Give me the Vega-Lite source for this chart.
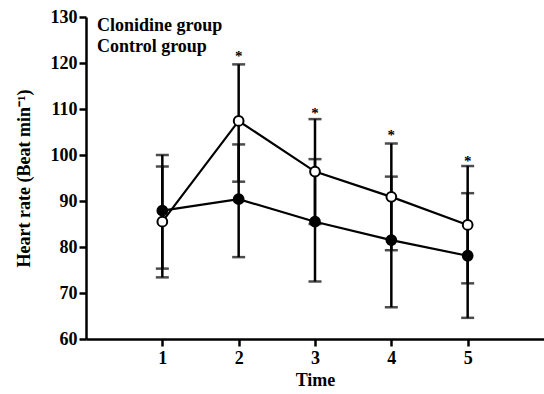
{
  "$schema": "https://vega.github.io/schema/vega-lite/v6.json",
  "width": 458,
  "height": 322,
  "autosize": {"type": "none"},
  "padding": {"left": 86, "top": 17, "right": 0, "bottom": 55},
  "background": "white",
  "config": {
    "font": "Liberation Serif",
    "view": {"stroke": null},
    "axis": {
      "domainColor": "black", "domainWidth": 2.5, "tickColor": "black", "tickWidth": 2.5,
      "tickSize": 7, "labelColor": "black", "labelFont": "Liberation Serif", "labelFontSize": 18, "labelFontWeight": "bold",
      "titleColor": "black", "titleFont": "Liberation Serif", "titleFontSize": 18, "titleFontWeight": "bold",
      "grid": false
    }
  },
  "datasets": {
    "hr": [
      {"time": 1, "group": "Clonidine group", "mean": 87.9, "lo": 75.3, "hi": 100.0},
      {"time": 2, "group": "Clonidine group", "mean": 90.4, "lo": 77.8, "hi": 102.3},
      {"time": 3, "group": "Clonidine group", "mean": 85.5, "lo": 72.5, "hi": 99.1},
      {"time": 4, "group": "Clonidine group", "mean": 81.5, "lo": 66.9, "hi": 95.3},
      {"time": 5, "group": "Clonidine group", "mean": 78.1, "lo": 64.6, "hi": 91.7},
      {"time": 1, "group": "Control group", "mean": 85.5, "lo": 73.4, "hi": 97.5},
      {"time": 2, "group": "Control group", "mean": 107.4, "lo": 94.2, "hi": 119.7},
      {"time": 3, "group": "Control group", "mean": 96.4, "lo": 85.0, "hi": 107.8},
      {"time": 4, "group": "Control group", "mean": 90.9, "lo": 79.3, "hi": 102.5},
      {"time": 5, "group": "Control group", "mean": 84.8, "lo": 72.1, "hi": 97.6}
    ],
    "stars": [
      {"time": 2, "y": 122.1, "label": "*"},
      {"time": 3, "y": 109.8, "label": "*"},
      {"time": 4, "y": 104.9, "label": "*"},
      {"time": 5, "y": 99.3, "label": "*"}
    ]
  },
  "layer": [
    {
      "data": {"name": "hr"},
      "mark": {"type": "errorbar", "ticks": {"size": 13, "thickness": 2.5, "color": "black"}, "rule": {"strokeWidth": 2.5, "color": "black"}},
      "encoding": {
        "x": {"field": "time", "type": "quantitative", "scale": {"domain": [0, 6], "nice": false},
          "axis": {"values": [1, 2, 3, 4, 5], "format": "d", "title": "Time", "labelPadding": 3, "titlePadding": 4}},
        "y": {"field": "lo", "type": "quantitative", "scale": {"domain": [60, 130], "nice": false, "zero": false},
          "axis": {"values": [60, 70, 80, 90, 100, 110, 120, 130], "title": "Heart rate (Beat min⁻¹)", "labelPadding": 2, "titlePadding": 17}},
        "y2": {"field": "hi"},
        "detail": {"field": "group"}
      }
    },
    {
      "data": {"name": "hr"},
      "mark": {"type": "line", "color": "black", "strokeWidth": 2.2},
      "encoding": {
        "x": {"field": "time", "type": "quantitative"},
        "y": {"field": "mean", "type": "quantitative"},
        "detail": {"field": "group"}
      }
    },
    {
      "data": {"name": "hr"},
      "mark": {"type": "point", "filled": true, "stroke": "black", "strokeWidth": 2, "size": 95, "opacity": 1, "shape": "circle"},
      "encoding": {
        "x": {"field": "time", "type": "quantitative"},
        "y": {"field": "mean", "type": "quantitative"},
        "fill": {"field": "group", "type": "nominal",
          "scale": {"domain": ["Clonidine group", "Control group"], "range": ["black", "white"]},
          "legend": {"title": null, "orient": "top-left", "offset": 0, "padding": 0, "symbolOpacity": 0, "symbolStrokeWidth": 0, "symbolSize": 0,
            "labelFont": "Liberation Serif", "labelFontSize": 18, "labelFontWeight": "bold", "labelColor": "black", "labelOffset": -7, "rowPadding": 3, "symbolOffset": 0}}
      }
    },
    {
      "data": {"name": "stars"},
      "mark": {"type": "text", "fontSize": 15, "fontWeight": "bold", "color": "black", "baseline": "middle", "dy": 3},
      "encoding": {
        "x": {"field": "time", "type": "quantitative"},
        "y": {"field": "y", "type": "quantitative"},
        "text": {"field": "label"}
      }
    }
  ]
}
